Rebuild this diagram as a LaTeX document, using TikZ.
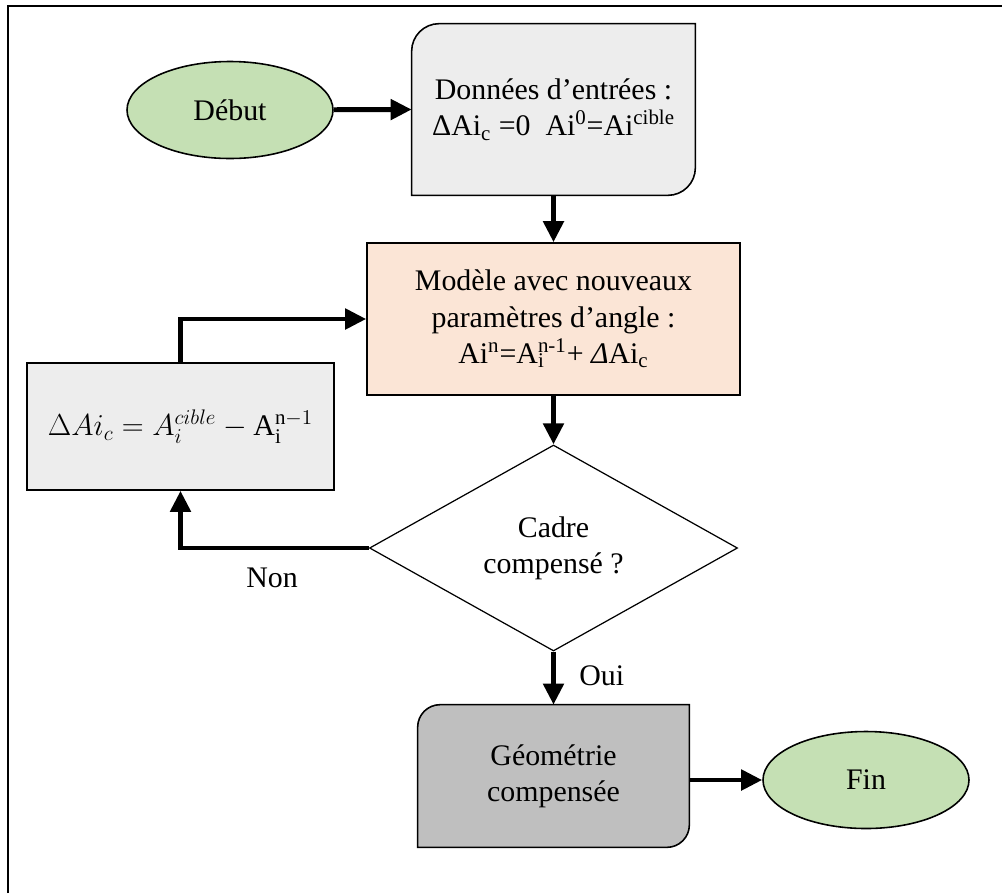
\documentclass[tikz,border=0pt]{standalone}
\usepackage{fontspec}
\setmainfont{Liberation Serif}
\usepackage{xcolor}
\usepackage{tikz}
\usetikzlibrary{shapes,arrows.meta,positioning,calc,backgrounds}

\definecolor{vertclair}{HTML}{C5E0B4}
\definecolor{grisclair}{HTML}{EDEDED}
\definecolor{peche}{HTML}{FBE5D6}
\definecolor{grismoyen}{HTML}{BFBFBF}

\begin{document}
\begin{tikzpicture}[
    font=\fontsize{17}{20.5}\selectfont,
    term/.style={ellipse, draw=black, line width=0.9pt, fill=vertclair, minimum width=4.12cm, minimum height=1.94cm, inner sep=0pt},
    proc/.style={rectangle, draw=black, line width=0.9pt, fill=#1, align=center, inner sep=0pt},
    proc/.default=grisclair,
    coin/.style={rectangle, draw=none, align=center, inner sep=0pt},
    test/.style={diamond, draw=black, line width=0.7pt, align=center, inner sep=0pt, minimum width=7.36cm, minimum height=4.12cm},
    arr/.style={-{Triangle[length=0.42cm, width=0.4cm]}, line width=2.8pt},
    lbl/.style={font=\fontsize{17}{20.5}\selectfont}
]
    \useasboundingbox (0,0) rectangle (20.04,-17.86);

    % Cadre (seuls les bords haut et gauche sont visibles)
    \draw[line width=1.2pt] (0.16,-17.86) -- (0.16,-0.12) -- (20.04,-0.12);

    % Debut et donnees d'entree
    \node[term] (debut) at (4.60,-2.20) {Début};
    \node[coin, minimum width=5.66cm, minimum height=3.42cm] (donnees) at (11.07,-2.19)
        {Données d’entrées :\\ΔAi\textsubscript{c} =0\enspace Ai\textsuperscript{0}=Ai\textsuperscript{cible}};

    % Modele
    \node[proc=peche, minimum width=7.46cm, minimum height=3.04cm] (modele) at (11.07,-6.38)
        {Modèle avec nouveaux\\paramètres d’angle :\\Ai\textsuperscript{n}=A\rlap{\textsubscript{i}}\textsuperscript{n-1}+ \textit{Δ}Ai\textsubscript{c}};

    % Test
    \node[test] (cadre) at (11.07,-10.96) {Cadre\\compensé ?};

    % Correction
    \node[proc, minimum width=6.14cm, minimum height=2.54cm] (correction) at (3.61,-8.53)
        {$\Delta Ai_c = A_i^{cible} - \mathrm{A}_{\mathrm{i}}^{\mathrm{n}-1}$};

    % Geometrie et fin
    \node[coin, minimum width=5.42cm, minimum height=2.84cm] (geometrie) at (11.07,-15.52)
        {Géométrie\\compensée};
    \node[term] (fin) at (17.32,-15.60) {Fin};

    % Boites a coins arrondis
    \begin{scope}[on background layer]
        \draw[line width=0.9pt, fill=grisclair] (donnees.south west)
            -- ([yshift=-0.55cm]donnees.north west) arc[start angle=180, end angle=90, radius=0.55cm]
            -- (donnees.north east)
            -- ([yshift=0.55cm]donnees.south east) arc[start angle=0, end angle=-90, radius=0.55cm]
            -- cycle;
        \draw[line width=0.9pt, fill=grismoyen] (geometrie.south west)
            -- ([yshift=-0.45cm]geometrie.north west) arc[start angle=180, end angle=90, radius=0.45cm]
            -- (geometrie.north east)
            -- ([yshift=0.45cm]geometrie.south east) arc[start angle=0, end angle=-90, radius=0.45cm]
            -- cycle;
    \end{scope}

    % Connecteurs
    \draw[arr] (debut) -- (donnees.west);
    \draw[arr] (donnees) -- (modele);
    \draw[arr] (modele) -- (cadre);
    \draw[arr] (cadre.south) -- node[lbl, right=0.35cm, pos=0.45] (oui) {Oui} (geometrie.north);
    \draw[arr] (cadre.west) -| (correction.south);
    \draw[arr] (correction.north) |- (modele.west);
    \draw[arr] (geometrie.east |- fin.west) -- (fin.west);
    \node[lbl] (non) at (5.44,-11.56) {Non};

\end{tikzpicture}
\end{document}
